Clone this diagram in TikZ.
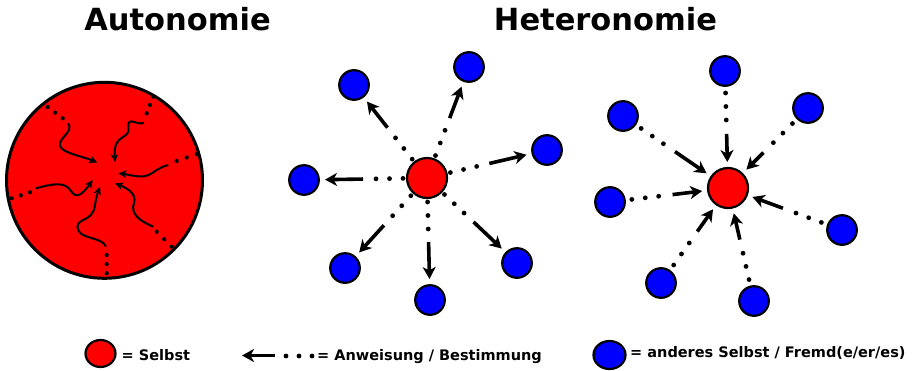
\documentclass[tikz,border=0pt]{standalone}
\usepackage{fontspec}
\setmainfont{DejaVu Sans}
\usetikzlibrary{calc,arrows.meta,backgrounds,shapes.geometric}
\definecolor{selfred}{RGB}{255,0,0}
\definecolor{otherblue}{RGB}{0,0,255}
\tikzset{
  selfnode/.style={circle, draw=black, line width=2.2pt, fill=selfred, minimum size=40pt, inner sep=0pt},
  othernode/.style={circle, draw=black, line width=2.2pt, fill=otherblue, minimum size=29.6pt, inner sep=0pt},
  dotrow/.style={line width=4.8pt, line cap=round, dash pattern=on 0pt off 13.5pt},
  order/.style={line width=3.6pt, -{Stealth[length=12pt,width=13pt,inset=3.5pt]}},
  wave/.style={line width=2pt, -{Stealth[length=8pt,width=7.5pt,inset=2.2pt]}},
  title/.style={font=\bfseries\fontsize{30.5}{36}\selectfont, anchor=base, inner sep=0pt},
  legend/.style={font=\bfseries\fontsize{14.5}{17}\selectfont, anchor=base west, inner sep=0pt},
}
\begin{document}
\begin{tikzpicture}[x=1pt,y=-1pt]
\useasboundingbox (0,0) rectangle (912,370);

% titles
\node[title] (tA) at (177.5,30) {Autonomie};
\node[title] (tH) at (605.5,30) {Heteronomie};

% ---- autonomy: one self with inner drives ----
\coordinate (ac) at (104.5,180.3);
\draw[line width=3pt, fill=selfred] (ac) circle (98);
\foreach \ax/\ay/\bx/\by in {47.7/107/62.7/118.3, 153.3/96.7/146.7/113.3,
                             196.7/154/176.7/161, 171.7/246.7/156.7/231.7,
                             106.7/273.3/106.7/255, 11.7/198.3/30/192.3}
  \foreach \t in {0,0.5,1}
    \fill ($(\ax,\ay)!\t!(\bx,\by)$) circle (2.1pt);
\draw[wave] (68.3,123.3) .. controls (74,132) and (58,138) .. (60,146)
            .. controls (62,153) and (85,157) .. (97.3,162.7);
\draw[wave] (144,122.7) .. controls (137,126) and (127,115) .. (128.5,128)
            .. controls (130,140) and (113,133) .. (115,162);
\draw[wave] (168.3,165) .. controls (155,168) and (152,177) .. (140,176.5)
            .. controls (132,176) and (125,174) .. (118.3,173.3);
\draw[wave] (153.3,226.7) .. controls (140,221) and (130,214) .. (134,203)
            .. controls (137,194) and (127,188) .. (115,183.3);
\draw[wave] (106,246.7) .. controls (102,236) and (78,240) .. (77.5,227)
            .. controls (77,218) and (93,222) .. (95,205)
            .. controls (96,198) and (98,192) .. (100,186.7);
\draw[wave] (36,188.3) .. controls (52,184) and (65,181) .. (71,191)
            .. controls (76,199) and (82,195) .. (92.7,180);

% ---- heteronomy: the self directs the others ----
\node[selfnode] (m) at (427,178) {};
\node[othernode] (m1) at (354,85) {};
\node[othernode] (m2) at (469,67) {};
\node[othernode] (m3) at (547,150) {};
\node[othernode] (m4) at (304,180) {};
\node[othernode] (m5) at (345,268) {};
\node[othernode] (m6) at (430,300) {};
\node[othernode] (m7) at (517,263) {};
\begin{scope}[on background layer]
\foreach \o in {m1,m2,m3,m4,m5,m6,m7}{
  \draw[dotrow] ($(m)!24pt!(\o)$) -- ($(m)!51.2pt!(\o)$);
  \draw[order] ($(m)!64pt!(\o)$) -- ($(\o)!21pt!(m)$);
}
\end{scope}

% ---- heteronomy: the others direct the self ----
\node[selfnode] (r) at (728,188) {};
\node[othernode] (r1) at (725,71) {};
\node[othernode] (r2) at (808,108) {};
\node[othernode] (r3) at (623,116) {};
\node[othernode] (r4) at (610,202) {};
\node[othernode] (r5) at (842,230) {};
\node[othernode] (r6) at (661,283) {};
\node[othernode] (r7) at (754,301) {};
\begin{scope}[on background layer]
\foreach \o in {r1,r2,r3,r4,r5,r6,r7}{
  \draw[dotrow] ($(\o)!22pt!(r)$) -- ($(\o)!49.2pt!(r)$);
  \draw[order] ($(\o)!63pt!(r)$) -- ($(r)!26pt!(\o)$);
}
\end{scope}

% ---- legend ----
\node[draw=black, line width=2.2pt, fill=selfred, ellipse, minimum width=30pt, minimum height=27pt, inner sep=0pt] (lr) at (100.5,353.5) {};
\node[legend] (lrt) at (121.5,360.5) {= Selbst};

\coordinate (la) at (275,355.5);
\coordinate (lt) at (242,355.5);
\draw[order] (la) -- (lt);
\coordinate (ld1) at (286,356);
\coordinate (ld2) at (312,356);
\draw[dotrow, dash pattern=on 0pt off 13pt] (ld1) -- (ld2);
\node[legend] (lat) at (317,360.5) {= Anweisung / Bestimmung};

\node[draw=black, line width=2.2pt, fill=otherblue, ellipse, minimum width=32pt, minimum height=28pt, inner sep=0pt] (lb) at (609.5,355) {};
\node[legend] (lbt) at (630,357.5) {= anderes Selbst / Fremd(e/er/es)};
\end{tikzpicture}
\end{document}
